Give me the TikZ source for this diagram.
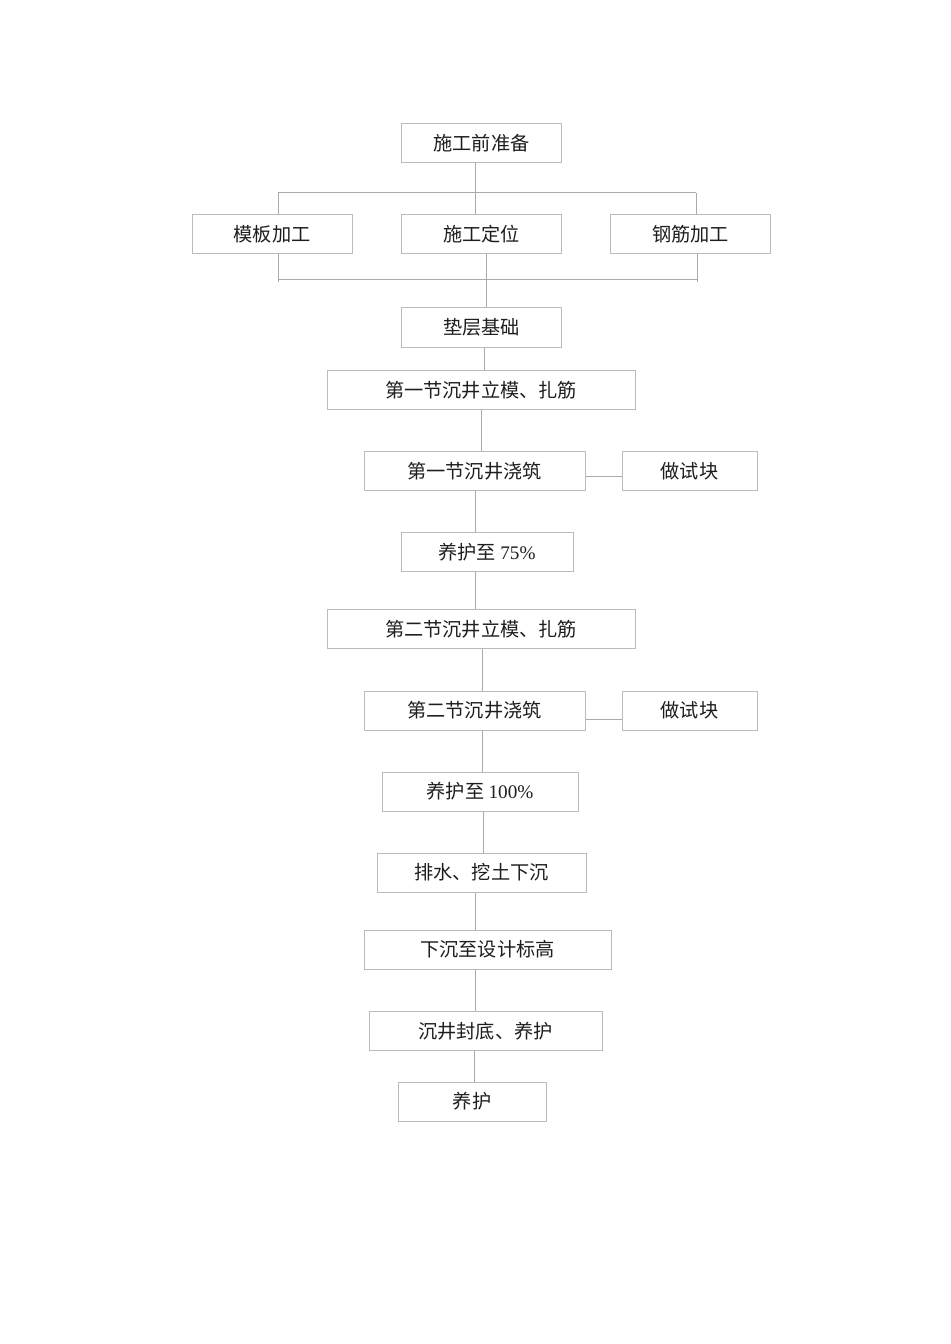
\documentclass[tikz,border=0pt]{standalone}
\usepackage{fontspec}
\setmainfont{Liberation Serif}
\newfontfamily\cjk{Noto Sans CJK SC}
\usetikzlibrary{calc}
\definecolor{boxgray}{HTML}{BBBBBB}
\definecolor{linegray}{HTML}{AAAAAA}
\definecolor{txt}{HTML}{1E1E1E}
\tikzset{
  bx/.style={draw=boxgray, line width=0.75pt, fill=white, inner sep=0pt,
    minimum height=29.25pt, minimum width=#1*0.75pt, text=txt,
    font=\cjk\fontsize{14.4}{17}\selectfont},
  ln/.style={draw=linegray, line width=0.75pt}
}
\begin{document}
\begin{tikzpicture}[x=0.75pt,y=-0.75pt]
\useasboundingbox (0,0) rectangle (950,1344);
% connectors first (behind boxes)
\begin{scope}[on background layer/.style={}]
\end{scope}
% nodes
\node[bx=160] (n1) at (481.5,143.5) {施工前准备};
\node[bx=160] (m1) at (272,234.5) {模板加工};
\node[bx=160] (m2) at (481.5,234.5) {施工定位};
\node[bx=160] (m3) at (690.5,234.5) {钢筋加工};
\node[bx=160] (n2) at (481.5,327.5) {垫层基础};
\node[bx=308] (n3) at (481,390) {第一节沉井立模、扎筋};
\node[bx=221] (n4) at (474.5,471) {第一节沉井浇筑};
\node[bx=135] (t1) at (689.5,471) {做试块};
\node[bx=172] (n5) at (487,552) {养护至 {\rmfamily 75\%}};
\node[bx=308] (n6) at (481,629) {第二节沉井立模、扎筋};
\node[bx=221] (n7) at (474.5,710.5) {第二节沉井浇筑};
\node[bx=135] (t2) at (689.5,710.5) {做试块};
\node[bx=196] (n8) at (480,791.5) {养护至 {\rmfamily 100\%}};
\node[bx=209] (n9) at (481.5,872.5) {排水、挖土下沉};
\node[bx=247] (n10) at (487.5,949.5) {下沉至设计标高};
\node[bx=233] (n11) at (485.5,1031) {沉井封底、养护};
\node[bx=148] (n12) at (472,1101.5) {养护};
% top bus
\coordinate (busL) at (278,193);
\coordinate (busR) at (696,193);
\draw[ln] (n1.south -| 475,0) -- (m2.north -| 475,0);
\draw[ln] (busL) -- (busR);
\draw[ln] (busL) -- (m1.north -| busL);
\draw[ln] (busR) -- (m3.north -| busR);
% bottom bus
\coordinate (bbL) at (278,280);
\coordinate (bbR) at (697,280);
\draw[ln] (m1.south -| bbL) -- ([yshift=-1.5pt]bbL);
\draw[ln] (m3.south -| bbR) -- ([yshift=-1.5pt]bbR);
\draw[ln] (bbL) -- (bbR);
\draw[ln] (m2.south -| 486,0) -- (n2.north -| 486,0);
% main chain
\draw[ln] (n2.south -| 484,0) -- (n3.north -| 484,0);
\draw[ln] (n3.south -| 481.5,0) -- (n4.north -| 481.5,0);
\draw[ln] ($(n4.east)+(0,5)$) -- ($(t1.west)+(0,5)$);
\draw[ln] (n4.south -| 475,0) -- (n5.north -| 475,0);
\draw[ln] (n5.south -| 475,0) -- (n6.north -| 475,0);
\draw[ln] (n6.south -| 482,0) -- (n7.north -| 482,0);
\draw[ln] ($(n7.east)+(0,8.5)$) -- ($(t2.west)+(0,8.5)$);
\draw[ln] (n7.south -| 482,0) -- (n8.north -| 482,0);
\draw[ln] (n8.south -| 483,0) -- (n9.north -| 483,0);
\draw[ln] (n9.south -| 475,0) -- (n10.north -| 475,0);
\draw[ln] (n10.south -| 475,0) -- (n11.north -| 475,0);
\draw[ln] (n11.south -| 474,0) -- (n12.north -| 474,0);
\end{tikzpicture}
\end{document}
